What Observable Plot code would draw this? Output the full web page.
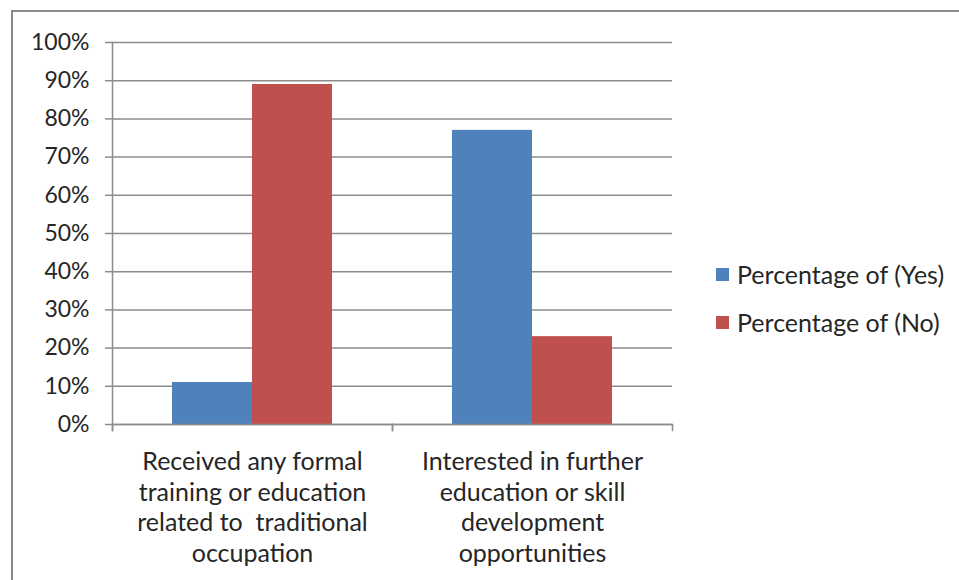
<!DOCTYPE html>
<html>
<head>
<meta charset="utf-8">
<script src="https://cdn.jsdelivr.net/npm/d3@7"></script>
<script src="https://cdn.jsdelivr.net/npm/@observablehq/plot@0.6"></script>
<style>
  html, body { margin: 0; padding: 0; background: #fff; }
  #wrap { position: relative; width: 959px; height: 580px; overflow: hidden; }
  #border { position: absolute; left: 11px; top: 10px; width: 1000px; height: 700px;
            border-left: 2px solid #8a8a8a; border-top: 2px solid #8a8a8a; box-sizing: border-box; }
  #legend { position: absolute; left: 716px; top: 257px; font-family: Lato, "Open Sans", sans-serif;
            font-size: 25px; color: #262626; }
  .row { display: flex; align-items: center; height: 34px; margin-bottom: 14px; }
  .sw { width: 13px; height: 13px; margin-right: 8px; }
</style>
</head>
<body>
<div id="wrap">
  <div id="border"></div>
  <div id="chart"></div>
  <div id="legend"></div>
</div>
<script>
const categories = [
  "Received any formal training or education related to  traditional occupation",
  "Interested in further education or skill development opportunities"
];
const categoryLines = [
  ["Received any formal", "training or education", "related to  traditional", "occupation"],
  ["Interested in further", "education or skill", "development", "opportunities"]
];
const series = ["Percentage of (Yes)", "Percentage of (No)"];
const yesValues = [0.11, 0.77];
const noValues = [0.89, 0.23];
const yTicks = [0, 0.1, 0.2, 0.3, 0.4, 0.5, 0.6, 0.7, 0.8, 0.9, 1.0];
const colors = ["#4F81BD", "#C0504D"];

const data = [];
categories.forEach((c, i) => {
  data.push({category: c, series: series[0], value: yesValues[i]});
  data.push({category: c, series: series[1], value: noValues[i]});
});

const gridColor = "#8c8c8c";

const chart = Plot.plot({
  width: 959,
  height: 580,
  marginLeft: 112,
  marginRight: 287,
  marginTop: 42,
  marginBottom: 156,
  style: {fontFamily: "Lato, 'Open Sans', sans-serif", fontSize: "23px", color: "#262626", background: "transparent"},
  fx: {domain: categories, padding: 0, round: false, axis: null},
  x: {domain: series, paddingInner: 0, paddingOuter: 0.75, round: false, axis: null},
  y: {domain: [0, 1], axis: null},
  color: {domain: series, range: colors},
  marks: [
    Plot.ruleY(yTicks, {stroke: gridColor, strokeWidth: 1.5}),
    Plot.barY(data, {fx: "category", x: "series", y: "value", fill: "series"}),
    Plot.ruleY([0], {stroke: gridColor, strokeWidth: 1.5}),
    Plot.frame({anchor: "left", facetAnchor: "left", insetBottom: -6, stroke: gridColor, strokeWidth: 1.5}),
    Plot.frame({anchor: "left", insetTop: 382, insetBottom: -6, stroke: gridColor, strokeWidth: 1.5}),
    Plot.frame({anchor: "right", insetTop: 382, insetBottom: -6, stroke: gridColor, strokeWidth: 1.5}),
    Plot.axisY({ticks: yTicks, tickFormat: d3.format(".0%"), tickSize: 7, tickPadding: 16,
                stroke: gridColor, strokeWidth: 1.5, strokeOpacity: 1, label: null, fontSize: 23}),
    Plot.axisFx({anchor: "bottom", tickSize: 0, tickPadding: 24, label: null, fontSize: 25, lineHeight: 1.22,
                 tickFormat: d => categoryLines[categories.indexOf(d)].join("\n")})
  ]
});
document.getElementById("chart").appendChild(chart);

const legend = document.getElementById("legend");
series.forEach((s, i) => {
  const row = document.createElement("div");
  row.className = "row";
  const sw = document.createElement("div");
  sw.className = "sw";
  sw.style.background = colors[i];
  const t = document.createElement("span");
  t.textContent = s;
  row.appendChild(sw);
  row.appendChild(t);
  legend.appendChild(row);
});
</script>
</body>
</html>
